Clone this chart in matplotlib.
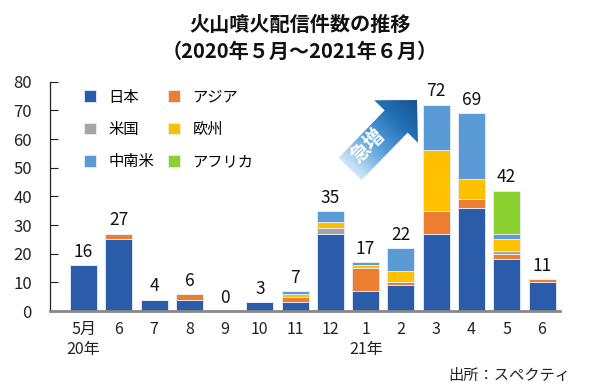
import matplotlib
matplotlib.use("Agg")
import matplotlib.pyplot as plt
import numpy as np
from matplotlib.patches import Polygon
from matplotlib.colors import LinearSegmentedColormap

plt.rcParams['font.family'] = ['Noto Sans CJK JP', 'DejaVu Sans']

months = ["5月", "6", "7", "8", "9", "10", "11", "12", "1", "2", "3", "4", "5", "6"]
year_labels = {0: "20年", 8: "21年"}

japan   = [16, 25, 4, 4, 0, 3, 3, 27, 7, 9, 27, 36, 18, 10]
asia    = [0, 2, 0, 2, 0, 0, 2, 0, 8, 1, 8, 3, 2, 1]
usa     = [0, 0, 0, 0, 0, 0, 0, 2, 0, 0, 0, 0, 1, 0]
europe  = [0, 0, 0, 0, 0, 0, 1, 2, 1, 4, 21, 7, 4, 0]
latam   = [0, 0, 0, 0, 0, 0, 1, 4, 1, 8, 16, 23, 2, 0]
africa  = [0, 0, 0, 0, 0, 0, 0, 0, 0, 0, 0, 0, 15, 0]

series_names = ["日本", "アジア", "米国", "欧州", "中南米", "アフリカ"]
series_vals = [japan, asia, usa, europe, latam, africa]
colors = ["#2A5CAA", "#ED7D31", "#A5A5A5", "#FFC000", "#5B9BD5", "#8AD02E"]

W, H = 600, 385
fig = plt.figure(figsize=(W / 100, H / 100), dpi=100)
ax = fig.add_axes([50 / W, 1 - 311 / H, 510 / W, (311 - 81.7) / H])

x = np.arange(len(months))
bottom = np.zeros(len(months))
handles = []
for name, vals, c in zip(series_names, series_vals, colors):
    v = np.array(vals, dtype=float)
    b = ax.bar(x, v, bottom=bottom, width=0.765, color=c, edgecolor="#E8EEF8",
               linewidth=0.6, label=name)
    handles.append(b)
    bottom += v

for xi, tot in zip(x, bottom):
    ax.annotate(f"{int(tot)}", (xi, tot), xytext=(0, 3), textcoords="offset points",
                ha="center", va="bottom", fontsize=12.5, color="#111111")

ax.set_xlim(-0.95, 13.51)
ax.set_ylim(0, 80)
ax.set_yticks(np.arange(0, 81, 10))
ax.tick_params(axis="y", direction="in", length=6, width=0.8, labelsize=12, pad=13,
               colors="#222222")
ax.set_xticks(x)
ax.set_xticklabels(months, fontsize=11.5, color="#222222")
ax.tick_params(axis="x", length=0, pad=7)
for s in ["top", "right"]:
    ax.spines[s].set_visible(False)
ax.spines["left"].set_color("#222222")
ax.spines["left"].set_linewidth(0.9)
ax.spines["bottom"].set_color("#888888")
ax.spines["bottom"].set_linewidth(2)

for i, lab in year_labels.items():
    ax.text(i, -0.17, lab, transform=ax.get_xaxis_transform(), ha="center", va="center",
            fontsize=11.5, color="#222222")

# row-wise legend order (matplotlib fills columns first)
order = [0, 2, 4, 1, 3, 5]
leg = ax.legend(handles=[handles[i] for i in order], ncol=2, loc="upper left",
                bbox_to_anchor=(0.04, 1.03), frameon=False, fontsize=11,
                handlelength=0.8, handleheight=0.8, columnspacing=0.9,
                labelspacing=1.0, handletextpad=0.8)

fig.text(0.5, 1 - 24 / H, "火山噴火配信件数の推移", ha="center", va="center",
         fontsize=14.5, fontweight="bold", color="#111111")
fig.text(0.5, 1 - 51 / H, "（2020年５月～2021年６月）", ha="center", va="center",
         fontsize=14.5, fontweight="bold", color="#111111")
fig.text(570 / W, 1 - 375 / H, "出所：スペクティ", ha="right", va="center",
         fontsize=11, color="#222222")

# decorative "急増" arrow in pixel overlay
ov = fig.add_axes([0, 0, 1, 1], zorder=5)
ov.axis("off")
tail = np.array([350.0, 169.0])
tip = np.array([417.0, 100.0])
d = tip - tail
L = np.hypot(*d)
u = d / L
n = np.array([-u[1], u[0]])
shaft_w, head_w, head_l = 32.0, 61.0, 30.0
base = tip - u * head_l
pts = [tail + n * shaft_w / 2, base + n * shaft_w / 2, base + n * head_w / 2, tip,
       base - n * head_w / 2, base - n * shaft_w / 2, tail - n * shaft_w / 2]
poly = Polygon(pts, closed=True, facecolor="none", edgecolor="none")
ov.add_patch(poly)
x0, x1, y0, y1 = 325, 425, 90, 190
gx, gy = np.meshgrid(np.linspace(x0, x1, 200), np.linspace(y0, y1, 200))
proj = ((gx - tail[0]) * u[0] + (gy - tail[1]) * u[1]) / L
cmap = LinearSegmentedColormap.from_list(
    "arr", [(0, "#D2E7F7"), (0.35, "#5FA3DC"), (0.7, "#2370B8"), (1, "#17528F")])
im = ov.imshow(np.clip(proj, 0, 1), extent=[x0, x1, y1, y0], cmap=cmap, origin="upper",
               interpolation="bilinear", aspect="auto", vmin=0, vmax=1)
im.set_clip_path(poly)
ov.set_xlim(0, W)
ov.set_ylim(H, 0)
ov.text(368, 146, "急増", rotation=45, ha="center", va="center", fontsize=14,
        fontweight="bold", color="white", rotation_mode="anchor")

fig.savefig("out.png", dpi=100)
